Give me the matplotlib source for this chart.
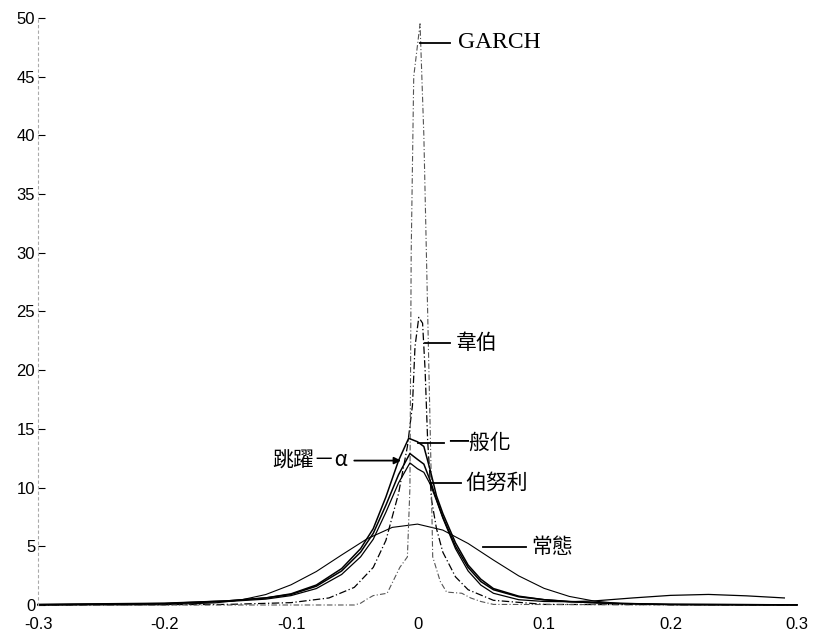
import matplotlib
matplotlib.use("Agg")
import matplotlib.pyplot as plt

plt.rcParams['font.family'] = ['Liberation Sans', 'DejaVu Sans']

# ---- data ----
x_ticks = [-0.3, -0.2, -0.1, 0.0, 0.1, 0.2, 0.3]
x_tick_labels = ["-0.3", "-0.2", "-0.1", "0", "0.1", "0.2", "0.3"]
y_ticks = [0, 5, 10, 15, 20, 25, 30, 35, 40, 45, 50]
y_tick_labels = ["0", "5", "10", "15", "20", "25", "30", "35", "40", "45", "50"]

normal_x = [-0.30, -0.20, -0.16, -0.14, -0.12, -0.10, -0.08, -0.06, -0.04, -0.02, 0.00,
            0.02, 0.04, 0.06, 0.08, 0.10, 0.12, 0.14, 0.16, 0.20, 0.30]
normal_y = [0.0, 0.02, 0.18, 0.42, 0.89, 1.72, 2.85, 4.26, 5.63, 6.61, 6.89,
            6.38, 5.24, 3.83, 2.48, 1.42, 0.73, 0.33, 0.13, 0.02, 0.0]

gen_x = [-0.30, -0.20, -0.15, -0.12, -0.10, -0.08, -0.06, -0.045, -0.035, -0.025, -0.015,
         -0.007, 0.0, 0.005, 0.01, 0.015, 0.02, 0.03, 0.04, 0.05, 0.06, 0.08, 0.10,
         0.12, 0.15, 0.20, 0.30]
gen_y = [0.02, 0.12, 0.35, 0.6, 0.95, 1.7, 3.1, 4.8, 6.5, 9.2, 12.3,
         14.2, 13.9, 13.5, 11.5, 9.3, 7.8, 5.3, 3.4, 2.2, 1.4, 0.75, 0.45,
         0.3, 0.15, 0.06, 0.01]

jump_x = [-0.30, -0.20, -0.15, -0.12, -0.10, -0.08, -0.06, -0.045, -0.035, -0.025, -0.015,
          -0.006, 0.0, 0.005, 0.01, 0.015, 0.02, 0.03, 0.04, 0.05, 0.06, 0.08, 0.10,
          0.12, 0.15, 0.20, 0.30]
jump_y = [0.05, 0.15, 0.35, 0.6, 0.9, 1.6, 2.9, 4.5, 6.1, 8.5, 11.1,
          12.9, 12.4, 12.0, 10.6, 9.0, 7.5, 5.0, 3.2, 2.0, 1.3, 0.7, 0.45,
          0.28, 0.15, 0.05, 0.01]

bern_x = [-0.30, -0.20, -0.15, -0.12, -0.10, -0.08, -0.06, -0.045, -0.035, -0.025, -0.015,
          -0.006, 0.0, 0.005, 0.01, 0.015, 0.02, 0.03, 0.04, 0.05, 0.06, 0.08, 0.10,
          0.12, 0.14, 0.17, 0.20, 0.23, 0.26, 0.29]
bern_y = [0.02, 0.1, 0.3, 0.5, 0.8, 1.4, 2.6, 4.1, 5.6, 7.9, 10.4,
          12.1, 11.6, 11.3, 10.3, 8.9, 7.4, 4.8, 2.9, 1.7, 1.0, 0.45, 0.3,
          0.28, 0.35, 0.6, 0.82, 0.9, 0.78, 0.6]

weib_x = [-0.30, -0.15, -0.10, -0.07, -0.05, -0.035, -0.025, -0.015, -0.008, -0.004,
          -0.002, 0.001, 0.004, 0.006, 0.008, 0.011, 0.015, 0.02, 0.03, 0.04, 0.06,
          0.10, 0.30]
weib_y = [0.0, 0.05, 0.2, 0.6, 1.5, 3.2, 5.5, 9.5, 13.5, 17.0,
          22.0, 24.5, 24.0, 20.0, 14.0, 9.0, 6.5, 4.5, 2.4, 1.3, 0.4,
          0.05, 0.0]

garch_x = [-0.30, -0.05, -0.045, -0.04, -0.035, -0.024, -0.014, -0.008, -0.006, -0.005,
           -0.003, 0.002, 0.005, 0.008, 0.011, 0.012, 0.018, 0.023, 0.035, 0.042,
           0.05, 0.06, 0.30]
garch_y = [0.0, 0.0, 0.15, 0.5, 0.8, 1.0, 3.2, 4.1, 10.0, 30.0,
           45.0, 49.5, 40.0, 25.0, 10.0, 4.1, 2.0, 1.1, 1.0, 0.6,
           0.3, 0.05, 0.0]

# labels: (text, leader start x, leader end x, y, text x)
labels = [
    ("GARCH", 0.002, 0.026, 47.9, 0.032),
    ("韋伯", 0.006, 0.026, 22.3, 0.030),
    ("一般化", 0.000, 0.021, 13.8, 0.024),
    ("伯努利", 0.010, 0.034, 10.4, 0.038),
    ("常態", 0.052, 0.086, 4.9, 0.090),
]
jump_label = ("跳躍－α", -0.013, -0.050, 12.3, -0.055)

fig = plt.figure(figsize=(8.21, 6.43), dpi=100)
ax = fig.add_axes([0.0463, 0.0591, 0.9245, 0.913])

kw = dict(color="black", clip_on=False)
ax.plot(normal_x, normal_y, lw=0.8, **kw)
ax.plot(weib_x, weib_y, lw=0.9, ls=(0, (6, 2, 1, 2)), **kw)
ax.plot(garch_x, garch_y, lw=0.8, ls=(0, (5, 2, 1, 2)), color="#555555", clip_on=False)
ax.plot(bern_x, bern_y, lw=0.9, **kw)
ax.plot(jump_x, jump_y, lw=1.1, **kw)
ax.plot(gen_x, gen_y, lw=1.1, **kw)

cjk = ['Noto Sans CJK TC', 'DejaVu Sans']
for text, x0, x1, y, tx in labels:
    ax.plot([x0, x1], [y, y], color="black", lw=1.3)
    if text == "GARCH":
        ax.text(tx, y, text, ha="left", va="center", fontsize=17,
                family=['Liberation Serif', 'DejaVu Serif'])
    else:
        ax.text(tx, y, text, ha="left", va="center", fontsize=15, family=cjk)

t, x0, x1, y, tx = jump_label
ax.annotate("", xy=(x0, y), xytext=(x1, y),
            arrowprops=dict(arrowstyle="-|>", color="black", lw=1.3,
                            mutation_scale=10, shrinkA=0, shrinkB=0))
ax.text(tx, y, t, ha="right", va="center", fontsize=15, family=cjk)

ax.set_xlim(-0.3, 0.3)
ax.set_ylim(0, 50)
ax.set_xticks(x_ticks)
ax.set_xticklabels(x_tick_labels, fontsize=12)
ax.set_yticks(y_ticks)
ax.set_yticklabels(y_tick_labels, fontsize=12)
ax.tick_params(axis="x", length=0, pad=9)
ax.tick_params(axis="y", direction="in", length=5, width=0.8, pad=2)

for s in ["top", "right", "bottom"]:
    ax.spines[s].set_visible(False)
ax.spines["left"].set_color("#aaaaaa")
ax.spines["left"].set_linestyle((0, (2, 3)))
ax.spines["left"].set_linewidth(0.8)

fig.savefig("out.png", dpi=100)
